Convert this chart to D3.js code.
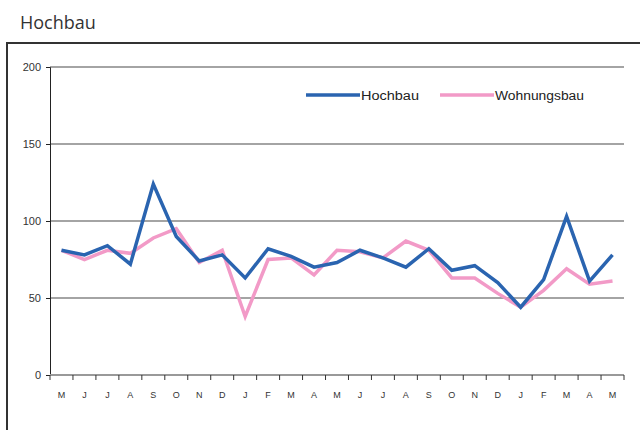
<!DOCTYPE html>
<html>
<head>
<meta charset="utf-8">
<script src="https://cdn.jsdelivr.net/npm/d3@7"></script>
<style>
  body { margin: 0; background: #fff; }
  svg { display: block; }
</style>
</head>
<body>
<div id="chart"></div>
<script>
// Monate Mai .. Mai (25 Werte)
var months = ["M", "J", "J", "A", "S", "O", "N", "D", "J", "F", "M", "A",
  "M", "J", "J", "A", "S", "O", "N", "D", "J", "F", "M", "A", "M"];
var hochbau = [81, 78, 84, 72, 124, 90, 74, 78, 63, 82, 77, 70,
  73, 81, 76, 70, 82, 68, 71, 60, 44, 62, 103, 61, 78];
var wohnungsbau = [81, 75, 81, 79, 89, 95, 73, 81, 38, 75, 76, 65,
  81, 80, 76, 87, 81, 63, 63, 53, 44, 55, 69, 59, 61];
var yTicks = [0, 50, 100, 150, 200];
var seriesNames = ["Hochbau", "Wohnungsbau"];
var colors = ["#2a64b0", "#f29ac7"];

var width = 640, height = 430;
var margin = { top: 67, right: 16, bottom: 55, left: 50 };

var svg = d3.select("#chart").append("svg")
  .attr("width", width)
  .attr("height", height);

// Titel
svg.append("text")
  .attr("x", 20).attr("y", 29)
  .style("font", "18px 'Open Sans', 'DejaVu Sans', sans-serif")
  .style("fill", "#333")
  .text("Hochbau");

// Rahmen
svg.append("path")
  .attr("d", "M7,430V43H640")
  .style("fill", "none")
  .style("stroke", "#333")
  .style("stroke-width", 2);

var x = d3.scaleBand()
  .domain(d3.range(months.length))
  .range([margin.left, 624]);

var y = d3.scaleLinear()
  .domain([0, 200])
  .range([375, margin.top]);

// Gitterlinien
svg.append("g")
  .selectAll("line")
  .data(yTicks.filter(function (d) { return d > 0; }))
  .enter()
  .append("line")
  .attr("x1", margin.left).attr("x2", 624)
  .attr("y1", function (d) { return y(d); })
  .attr("y2", function (d) { return y(d); })
  .style("stroke", "#4a4a4a")
  .style("stroke-width", 1.2);

// y-Achse
var yAxis = svg.append("g")
  .attr("transform", "translate(" + margin.left + ",0)")
  .call(d3.axisLeft(y).tickValues(yTicks).tickSize(4).tickPadding(5));
yAxis.select(".domain").style("stroke", "#222");
yAxis.selectAll("line").style("stroke", "#222");
yAxis.selectAll("text")
  .style("font", "11px Arial, 'Liberation Sans', sans-serif")
  .style("fill", "#333");

// x-Achse
var xAxis = svg.append("g")
  .attr("transform", "translate(0," + y(0) + ")");
xAxis.append("line")
  .attr("x1", margin.left).attr("x2", 624)
  .style("stroke", "#999")
  .style("stroke-width", 2);
xAxis.selectAll("line.tick")
  .data(d3.range(months.length + 1))
  .enter()
  .append("line")
  .attr("class", "tick")
  .attr("x1", function (i) { return margin.left + i * x.step(); })
  .attr("x2", function (i) { return margin.left + i * x.step(); })
  .attr("y1", 0).attr("y2", 5)
  .style("stroke", "#333");
xAxis.selectAll("text")
  .data(months)
  .enter()
  .append("text")
  .attr("x", function (d, i) { return x(i) + x.bandwidth() / 2; })
  .attr("y", 23)
  .attr("text-anchor", "middle")
  .style("font", "9px Arial, 'Liberation Sans', sans-serif")
  .style("fill", "#333")
  .text(function (d) { return d; });

// Linien
var line = d3.line()
  .x(function (d, i) { return x(i) + x.bandwidth() / 2; })
  .y(function (d) { return y(d); });

[hochbau, wohnungsbau].slice().reverse().forEach(function (s, k) {
  svg.append("path")
    .datum(s)
    .attr("d", line)
    .style("fill", "none")
    .style("stroke", colors[1 - k])
    .style("stroke-width", 3.5)
    .style("stroke-linejoin", "miter");
});

// Legende
var legendX = [306, 440];
var legendW = [58, 89];
seriesNames.forEach(function (name, i) {
  var g = svg.append("g").attr("transform", "translate(" + legendX[i] + ",95)");
  g.append("line")
    .attr("x1", 0).attr("x2", 54)
    .style("stroke", colors[i])
    .style("stroke-width", 3.5);
  g.append("text")
    .attr("x", 55).attr("y", 4.5)
    .attr("textLength", legendW[i])
    .attr("lengthAdjust", "spacingAndGlyphs")
    .style("font", "12.5px Arial, 'Liberation Sans', sans-serif")
    .style("fill", "#222")
    .text(name);
});
</script>
</body>
</html>
